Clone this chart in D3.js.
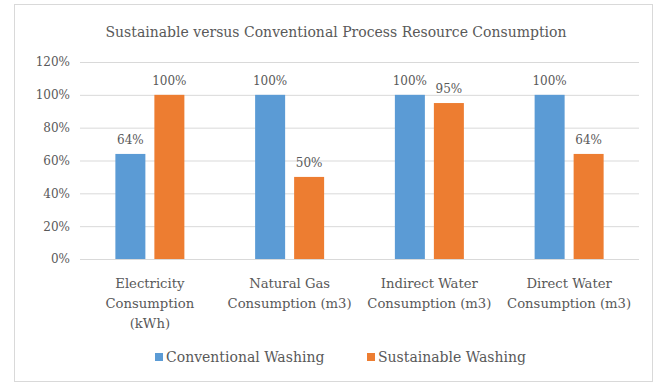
<!DOCTYPE html>
<html>
<head>
<meta charset="utf-8">
<script src="https://cdn.jsdelivr.net/npm/d3@7"></script>
<style>
  body { margin: 0; background: #fff; }
</style>
</head>
<body>
<svg width="657" height="385"></svg>
<script>
const categories = [
  ["Electricity", "Consumption", "(kWh)"],
  ["Natural Gas", "Consumption (m3)"],
  ["Indirect Water", "Consumption (m3)"],
  ["Direct Water", "Consumption (m3)"]
];
const seriesNames = ["Conventional Washing", "Sustainable Washing"];
const conventional = [0.64, 1.00, 1.00, 1.00];
const sustainable = [1.00, 0.50, 0.95, 0.64];
const yTicks = [0, 0.2, 0.4, 0.6, 0.8, 1.0, 1.2];
const colors = ["#5B9BD5", "#ED7D31"];
const FONT = "'DejaVu Serif', serif";

const svg = d3.select("svg");
const width = +svg.attr("width");
const height = +svg.attr("height");

const margin = { top: 62, right: 18, bottom: 126, left: 80 };
const innerWidth = width - margin.left - margin.right;
const innerHeight = height - margin.top - margin.bottom;

// chart border
svg.append("rect")
  .attr("x", 14.5).attr("y", 4.5)
  .attr("width", 638).attr("height", 377)
  .attr("fill", "none").attr("stroke", "#d9d9d9");

const rows = categories.map((c, i) => ({ key: i, lines: c, values: [conventional[i], sustainable[i]] }));

const x0 = d3.scaleBand()
  .domain(rows.map(d => d.key))
  .range([0, innerWidth])
  .padding(0);

const groupW = 69;
const x1 = d3.scaleBand()
  .domain([0, 1])
  .range([(x0.bandwidth() - groupW) / 2, (x0.bandwidth() + groupW) / 2])
  .paddingInner(0.2308);

const yScale = d3.scaleLinear().domain([0, 1.2]).range([innerHeight, 0]);

const g = svg.append("g")
  .attr("transform", `translate(${margin.left}, ${margin.top})`);

// gridlines + y labels
const yAxisG = g.append("g")
  .call(d3.axisLeft(yScale).tickValues(yTicks).tickFormat(d3.format(".0%")).tickSize(-innerWidth).tickPadding(10));
yAxisG.attr("font-family", FONT).attr("font-size", 12);
yAxisG.select(".domain").remove();
yAxisG.selectAll(".tick line").attr("stroke", "#d9d9d9");
yAxisG.selectAll(".tick text").attr("fill", "#595959");

// bars
const groups = g.selectAll(".grp").data(rows).enter().append("g")
  .attr("transform", d => `translate(${x0(d.key)}, 0)`);

groups.selectAll("rect").data(d => d.values.map((v, i) => ({ v, i })))
  .enter().append("rect")
  .attr("x", d => x1(d.i))
  .attr("y", d => yScale(d.v))
  .attr("width", x1.bandwidth())
  .attr("height", d => innerHeight - yScale(d.v))
  .attr("fill", d => colors[d.i]);

groups.selectAll(".lbl").data(d => d.values.map((v, i) => ({ v, i })))
  .enter().append("text")
  .attr("x", d => x1(d.i) + x1.bandwidth() / 2)
  .attr("y", d => yScale(d.v) - 10)
  .attr("text-anchor", "middle")
  .attr("font-family", FONT)
  .attr("font-size", 12)
  .attr("fill", "#595959")
  .text(d => d3.format(".0%")(d.v));

// x labels
const xl = g.selectAll(".xl").data(rows).enter().append("text")
  .attr("x", d => x0(d.key) + x0.bandwidth() / 2)
  .attr("y", innerHeight + 29)
  .attr("text-anchor", "middle")
  .attr("font-family", FONT)
  .attr("fill", "#595959")
  .attr("font-size", 13.2);
xl.selectAll("tspan").data(d => d.lines).enter().append("tspan")
  .attr("x", function () { return this.parentNode.getAttribute("x"); })
  .attr("dy", (d, i) => i === 0 ? 0 : 20)
  .text(d => d);

// title
svg.append("text")
  .attr("x", 336).attr("y", 37)
  .attr("text-anchor", "middle")
  .attr("font-family", FONT)
  .attr("fill", "#595959")
  .attr("font-size", 14)
  .text("Sustainable versus Conventional Process Resource Consumption");

// legend
const legendX = [155, 367];
const lg = svg.selectAll(".lg").data(seriesNames).enter().append("g")
  .attr("transform", (d, i) => `translate(${legendX[i]}, 358)`);
lg.append("rect").attr("x", 0).attr("y", -5).attr("width", 8).attr("height", 8)
  .attr("fill", (d, i) => colors[i]);
lg.append("text").attr("x", 11).attr("y", 4)
  .attr("font-family", FONT).attr("fill", "#595959")
  .attr("font-size", 14).text(d => d);
</script>
</body>
</html>
